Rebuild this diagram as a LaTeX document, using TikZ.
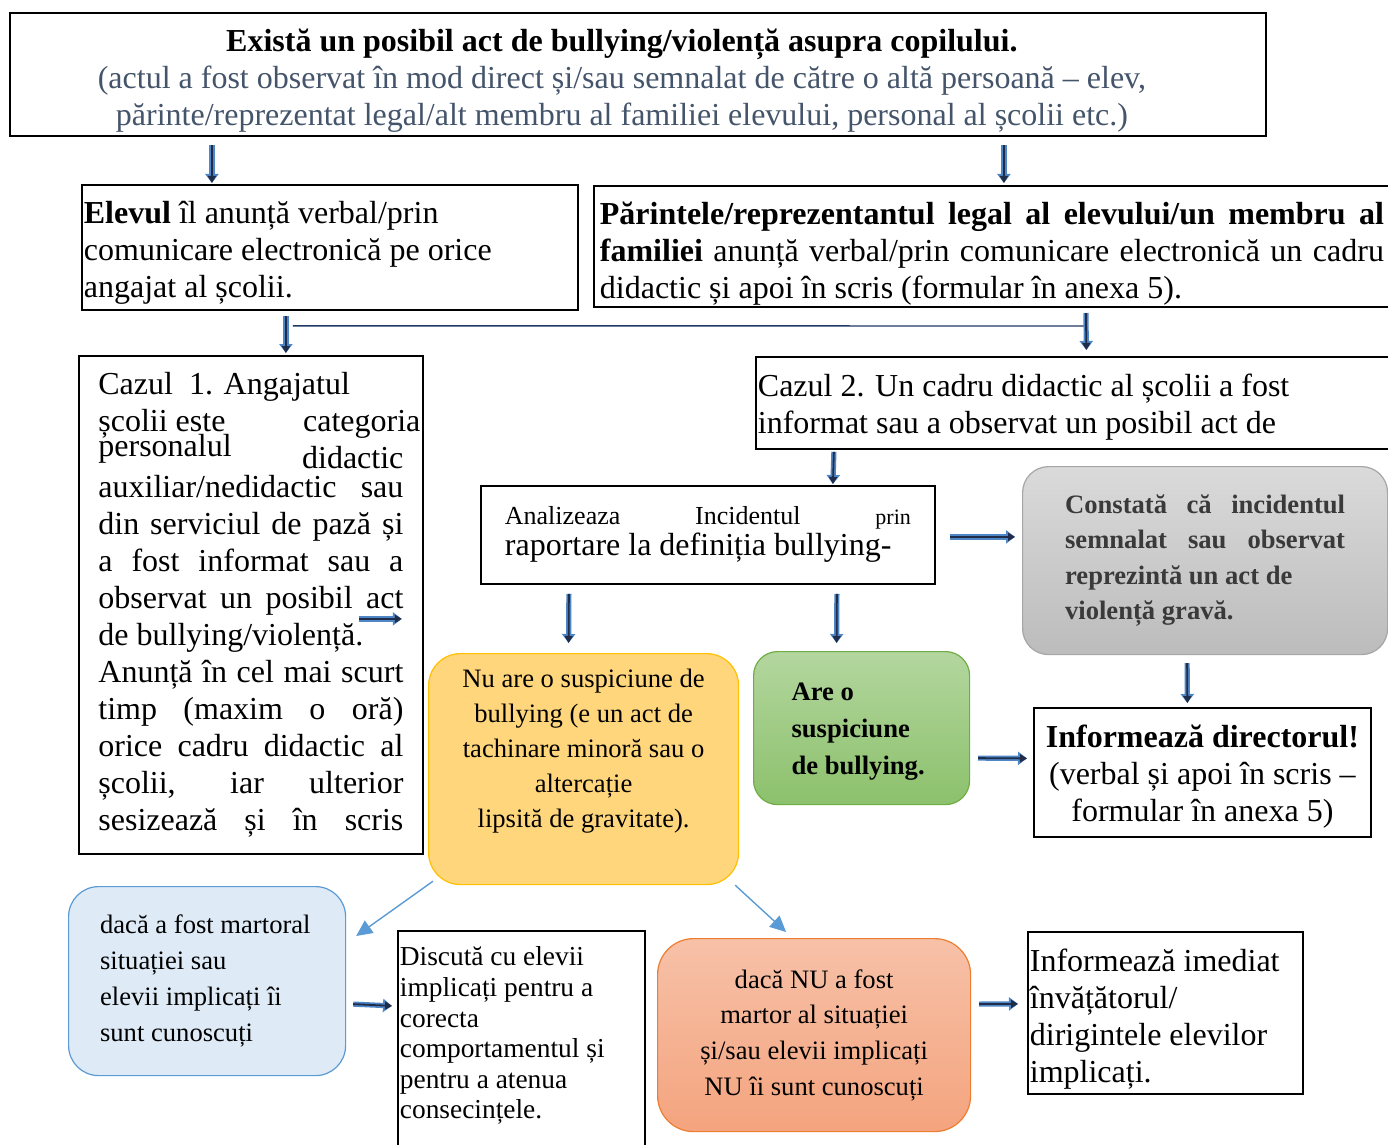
\documentclass[tikz,border=0pt]{standalone}
\usepackage{fontspec}
\setmainfont{Liberation Serif}
\usetikzlibrary{positioning, calc, arrows.meta}
\definecolor{arrowblue}{HTML}{4F86C6}
\definecolor{arrowcore}{HTML}{1F2D4A}
\definecolor{linknavy}{HTML}{203864}
\definecolor{thinblue}{HTML}{5B9BD5}
\definecolor{slate}{HTML}{44546A}
\definecolor{graytext}{HTML}{3A3A3A}
\definecolor{yellowfill}{HTML}{FFD67C}
\definecolor{yellowline}{HTML}{FFC000}
\definecolor{greentop}{HTML}{B3D69E}
\definecolor{greenbot}{HTML}{8CC16C}
\definecolor{greenline}{HTML}{70AD47}
\definecolor{graytop}{HTML}{DADADA}
\definecolor{graybot}{HTML}{BCBCBC}
\definecolor{grayline}{HTML}{A6A6A6}
\definecolor{bluefill}{HTML}{DEEBF7}
\definecolor{blueline}{HTML}{5B9BD5}
\definecolor{orangetop}{HTML}{F7C1A8}
\definecolor{orangebot}{HTML}{F4A47E}
\definecolor{orangeline}{HTML}{ED7D31}
\newcommand{\mainsize}{\fontsize{16}{18.5}\selectfont}
\newcommand{\smallsize}{\fontsize{13.3}{17.5}\selectfont}
\newcommand{\jline}[1]{\makebox[\hsize][s]{#1}}
\newcommand{\topgap}[1]{\rule{0pt}{#1}}
\tikzset{
  plainbox/.style={draw=black, line width=0.9pt, inner sep=1pt, anchor=north west, align=left, font=\mainsize,
    execute at begin node={\spaceskip=0pt\xspaceskip=0pt}},
  roundbox/.style={line width=0.6pt, rounded corners=15pt, inner sep=1pt, anchor=north west, font=\smallsize,
    execute at begin node={\spaceskip=0pt\xspaceskip=0pt}},
  centertext/.style={align=center, execute at begin node={\spaceskip=.25em\relax\xspaceskip=.25em\relax}},
  blkarrow/.style={draw=arrowcore, line width=0.9pt, -{Triangle[length=3.5pt, width=4pt]},
    preaction={draw=arrowblue, line width=2.6pt, -{Triangle[length=4.5pt, width=6.5pt]}}},
  thinarrow/.style={draw=thinblue, line width=0.7pt, -{Triangle[length=8pt, width=7.5pt]}},
  link/.style={draw=linknavy, line width=0.7pt}
}
\begin{document}
\begin{tikzpicture}[x=0.5pt, y=-0.5pt]
  \clip (0,0) rectangle (1388,1145);
  % first report
  \node[plainbox, centertext, text width=624pt, minimum width=628pt, minimum height=61.5pt] (event) at (9,12)
    {\topgap{17.7pt}\textbf{Există un posibil act de bullying/violență asupra copilului.}\kern16pt\\
     \textcolor{slate}{(actul a fost observat în mod direct și/sau semnalat de către o altă persoană – elev,}\kern16pt\\
     \textcolor{slate}{părinte/reprezentat legal/alt membru al familiei elevului, personal al școlii etc.)}\kern16pt};
  \node[plainbox, text width=246pt, minimum width=248pt, minimum height=62.5pt] (elevul) at (81,184)
    {\topgap{16.2pt}\textbf{Elevul} îl anunță verbal/prin\\ comunicare electronică pe orice\\ angajat al școlii.};
  \node[plainbox, text width=392pt, minimum width=398pt, minimum height=60.5pt] (parinte) at (593,185)
    {\topgap{18.2pt}\jline{\bfseries Părintele/reprezentantul legal al elevului/un membru al}\\
     \jline{\textbf{familiei} anunță verbal/prin comunicare electronică un cadru}\\
     didactic și apoi în scris (formular în anexa 5).};
  \draw[blkarrow] ($(event.south)+(-426,8)$) -- ($(elevul.north)+(-118,-1)$);
  \draw[blkarrow] ($(event.south)+(366,8)$) -- ($(parinte.north)+(12,-2)$);
  % the two cases
  \node[plainbox, text width=152.5pt, minimum width=172pt, minimum height=249pt] (caz1) at (78,355)
    {Cazul\ \ 1. Angajatul\\
     \makebox[\hsize][l]{\makebox[161pt][s]{școlii este\hfill categoria}}\\[-4pt]
     \jline{\raisebox{2pt}{personalul}\hfill\raisebox{-4pt}{didactic}}\\
     \jline{auxiliar/nedidactic sau}\\
     \jline{din serviciul de pază și}\\
     \jline{a fost informat sau a}\\
     \jline{observat un posibil act}\\
     de bullying/violență.\\
     \jline{Anunță în cel mai scurt}\\
     \jline{timp (maxim o oră)}\\
     \jline{orice cadru didactic al}\\
     \jline{școlii, iar ulterior}\\
     \jline{sesizează și în scris}};
  \node[plainbox, text width=316pt, minimum width=317.5pt, minimum height=46pt] (caz2) at (755,356)
    {\topgap{15.2pt}Cazul 2. Un cadru didactic al școlii a fost\\ informat sau a observat un posibil act de};
  \draw[blkarrow] ($(elevul.south)+(-44,5)$) -- ($(caz1.north)+(35,-2)$);
  \draw[link] ($(elevul.south)+(-37,15)$) -- ($(parinte.south)+(94,18)$);
  \draw[blkarrow] ($(parinte.south)+(94,5)$) -- ($(caz2.north)+(12.5,-6)$);
  \coordinate (caz1tail) at ($(caz1.east)+(-65,14)$);
  \coordinate (caz1head) at ($(caz1.east)+(-22,14)$);
  \draw[blkarrow] (caz1tail) -- (caz1head);
  % analysis
  \node[plainbox, text width=203pt, minimum width=227pt, minimum height=49pt] (analiz) at (480,485)
    {\jline{\fontsize{13}{15}\selectfont Analizeaza\hfill Incidentul\hfill{\fontsize{11}{13}\selectfont prin}}\\[-3pt]
     raportare la definiția bullying-};
  \draw[blkarrow] ($(caz2.south)+(-240,2)$) -- ($(analiz.north)+(125,-1)$);
  \node[roundbox, draw=grayline, top color=graytop, bottom color=graybot, text=graytext,
    font=\fontsize{13.3}{17.75}\selectfont\bfseries, align=left, text width=140pt,
    minimum width=182.5pt, minimum height=94pt, rounded corners=13pt] (grav) at (1022,466)
    {\jline{Constată că incidentul}\\ \jline{semnalat sau observat}\\ reprezintă un act de\\ violență gravă.};
  \node[roundbox, draw=yellowline, fill=yellowfill, rounded corners=16pt] (nosusp) at (428,653)
    {\begin{minipage}[t][113.5pt][t]{153pt}\centering\vspace*{6.5pt}Nu are o suspiciune de\\ bullying (e un act de\\
     tachinare minoră sau o\\ altercație\\ lipsită de gravitate).\end{minipage}};
  \node[roundbox, draw=greenline, top color=greentop, bottom color=greenbot,
    font=\fontsize{13.3}{18.5}\selectfont\bfseries, align=left, text width=70pt,
    minimum width=108pt, minimum height=76.5pt, rounded corners=12pt] (aresusp) at (753,651)
    {\topgap{12.7pt}Are o\\ suspiciune\\ de bullying.};
  \node[plainbox, centertext, text width=164pt, minimum width=168.5pt, minimum height=64.5pt] (director) at (1033,707)
    {\topgap{15.2pt}\textbf{Informează directorul!}\\ (verbal și apoi în scris –\\ formular în anexa 5)};
  \draw[blkarrow] ($(analiz.south)+(-139,9)$) -- ($(nosusp.north)+(-15,-10)$);
  \draw[blkarrow] ($(analiz.south)+(129,9)$) -- ($(aresusp.north)+(-25,-8)$);
  \draw[blkarrow] ($(analiz.east)+(14,2)$) -- ($(grav.west |- analiz.east)+(-7,2)$);
  \draw[blkarrow] ($(grav.south)+(-18,8)$) -- ($(director.north)+(-15,-4)$);
  \draw[blkarrow] ($(aresusp.east)+(8,30)$) -- ($(director.west)+(-6,-14)$);
  % bottom row
  \node[roundbox, draw=blueline, fill=bluefill, align=left, text width=107pt, minimum width=138.5pt,
    minimum height=94.5pt, font=\fontsize{13.3}{18}\selectfont] (martor) at (68,886)
    {dacă a fost martoral\\ situației sau\\ elevii implicați îi\\ sunt cunoscuți};
  \node[plainbox] (discuta) at (397,930)
    {\begin{minipage}[t][110pt][t]{121.5pt}\fontsize{13.7}{15.3}\selectfont\raggedright\vspace*{7pt}Discută cu elevii\\
     implicați pentru a\\ corecta\\ comportamentul și\\ pentru a atenua\\ consecințele.\end{minipage}};
  \node[roundbox, draw=orangeline, top color=orangetop, bottom color=orangebot, centertext,
    text width=150pt, minimum width=156.5pt, minimum height=96.5pt,
    font=\fontsize{13.3}{17.8}\selectfont, rounded corners=18pt] (nemartor) at (657,938)
    {dacă NU a fost\\ martor al situației\\ și/sau elevii implicați\\ NU îi sunt cunoscuți};
  \node[plainbox, text width=135.5pt, minimum width=137.5pt, minimum height=81pt] (diriginte) at (1027,931)
    {\topgap{17.2pt}Informează imediat\\ învățătorul/\\ dirigintele elevilor\\ implicați.};
  \draw[thinarrow] ($(nosusp.south west)+(5,-4)$) -- ($(martor.north east)+(10,50)$);
  \draw[thinarrow] ($(nosusp.south east)+(-4,0)$) -- ($(nemartor.north)+(-28,-6)$);
  \draw[blkarrow] ($(martor.east)+(7,23)$) -- ($(discuta.west)+(-5,-37)$);
  \draw[blkarrow] ($(nemartor.east)+(8,-31)$) -- ($(diriginte.west)+(-9,-9)$);
\end{tikzpicture}
\end{document}
